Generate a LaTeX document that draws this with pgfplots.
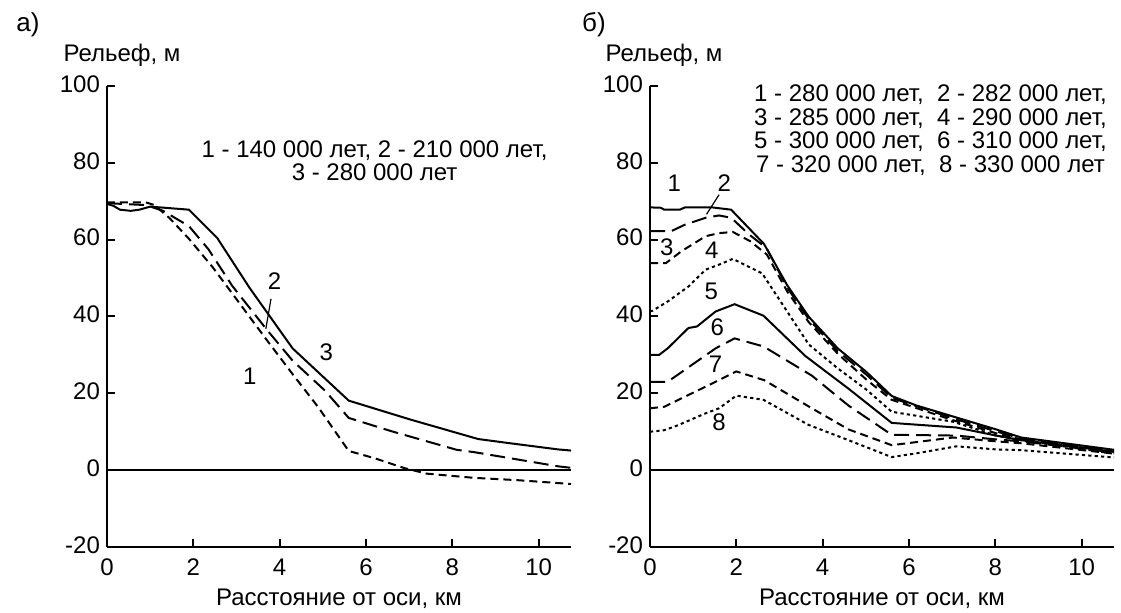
\documentclass[border=0pt]{standalone}
\usepackage{fontspec}
\setmainfont{Liberation Sans}
\usepackage{pgfplots}
\pgfplotsset{compat=1.18}
\newcommand{\fs}{\fontsize{12pt}{11pt}\selectfont}
\pgfplotsset{
  panel/.style={
    scale only axis, width=232pt, height=230.5pt, anchor=south west,
    xmin=0, xmax=10.75, ymin=-20, ymax=100,
    axis x line*=bottom, axis y line*=left,
    xtick={0,2,4,6,8,10}, ytick={-20,0,20,40,60,80,100},
    tick align=inside, major tick length=4pt,
    axis line style={line width=1.4pt},
    every tick/.style={line width=1pt, black},
    /pgf/number format/assume math mode=true,
    tick label style={font=\fs},
    xticklabel style={yshift=-2.5pt},
    yticklabel style={yshift=1pt},
    xlabel={Расстояние от оси, км},
    xlabel style={font=\fs, at={(axis description cs:0.5,0)}, anchor=center, yshift=-26pt},
    every axis plot/.append style={line width=1pt, black},
    clip=false,
  },
  s1/.style={solid},
  ld/.style={dash pattern=on 7.5pt off 3.5pt},
  md/.style={dash pattern=on 4pt off 2.5pt},
  dt/.style={dash pattern=on 1.6pt off 1.6pt},
}
\begin{document}
\begin{tikzpicture}[font=\fs]
\path[use as bounding box] (0,0) rectangle (560.5pt,306.5pt);
\node[font=\fontsize{13pt}{13pt}\selectfont] at (14pt,294pt) {а)};
\node[font=\fontsize{13pt}{13pt}\selectfont] at (297pt,294pt) {б)};
\node at (61pt,279pt) {Рельеф, м};
\node at (332pt,279pt) {Рельеф, м};

% ---------------- panel a
\begin{axis}[panel, at={(53.5pt,33pt)}]
\addplot[line width=0.75pt] coordinates {(0,0) (10.75,0)};
% 1 - 140 000
\addplot[md] coordinates {(0,69.7) (0.9,69.7) (1.1,69) (1.45,65.6) (1.9,60.2) (2.45,52.8) (3.0,44.5) (3.7,33.9) (4.3,25) (4.9,16.3) (5.6,5) (6.2,3.1) (6.9,0.5) (7.4,-0.9) (8.5,-2) (9.5,-2.6) (10.75,-3.6)};
% 2 - 210 000
\addplot[ld] coordinates {(0,69.5) (0.9,69) (1.3,67.5) (1.9,63.5) (2.35,57.5) (2.9,48) (3.7,36.6) (4.3,28.5) (5.05,20.7) (5.6,13.6) (6.6,10.1) (8.1,5.3) (8.5,4.7) (10.45,1.0) (10.75,0.6)};
% 3 - 280 000
\addplot[s1] coordinates {(0,69.3) (0.15,68.8) (0.3,67.8) (0.55,67.5) (0.75,67.8) (1.0,68.6) (1.9,67.8) (2.55,60.5) (3.3,47.5) (4.3,31.7) (5.6,18.1) (7.02,13.2) (8.6,8.1) (9.34,7) (10.45,5.4) (10.75,5.1)};
\node at (axis cs:3.31,24.4) {1};
\node at (axis cs:3.88,49.2) {2};
\node at (axis cs:5.08,30.6) {3};
\draw[line width=0.6pt] (axis cs:3.8,44.6) -- (axis cs:3.68,36.8);
\node[align=center, font=\fontsize{12pt}{11.5pt}\selectfont] at (axis cs:6.2,80.6) {1 - 140 000 лет, 2 - 210 000 лет,\\3 - 280 000 лет};
\end{axis}

% ---------------- panel b
\begin{axis}[panel, at={(325pt,33pt)}]
\addplot[line width=0.75pt] coordinates {(0,0) (10.75,0)};
% 1
\addplot[s1] coordinates {(0,68.4) (0.25,68.3) (0.33,67.8) (0.69,67.8) (0.81,68.4) (1.44,68.4) (1.88,67.8) (2.64,58.9) (3.18,48.1) (3.68,39.9) (4.35,31.7) (5.02,25.5) (5.6,19.3) (6.18,16.8) (7.1,13.7) (8.02,10.6) (8.6,8.5) (10.75,5.3)};
% 2
\addplot[ld] coordinates {(0,62.2) (0.49,62.2) (0.81,63.9) (1.29,65.7) (1.6,66.3) (1.88,65.7) (2.3,61.3) (2.7,57.8) (3.18,47.5) (3.68,39.3) (4.35,31) (5.02,24.8) (5.6,18.8) (7.1,13.2) (8.02,10.1) (8.6,8.2) (10.75,4.9)};
% 3
\addplot[md] coordinates {(0,53.9) (0.37,53.9) (0.73,57) (1.29,60.9) (1.6,61.7) (1.92,62) (2.32,59.6) (2.71,56.1) (3.18,46.5) (3.68,38.5) (4.35,30.3) (5.02,23.5) (5.6,18.3) (7.02,13) (8.02,9.6) (8.6,8) (10.75,4.8)};
% 4
\addplot[dt] coordinates {(0,41.3) (0.06,41.5) (0.41,43.9) (0.89,47.8) (1.29,52.2) (1.6,53.5) (1.92,55) (2.6,51.2) (3.02,44) (3.68,32.7) (4.35,26.5) (5.02,20.9) (5.6,15.2) (7.02,12.6) (8.02,9) (8.6,7.8) (10.75,4.3)};
% 5
\addplot[s1] coordinates {(0,30) (0.21,30) (0.41,31.7) (0.89,37) (1.09,37.4) (1.52,41.3) (1.96,43.2) (2.63,40.2) (3.6,29.7) (4.6,21.2) (5.6,12.3) (7.1,11.1) (8.02,9) (8.6,7.8) (10.75,4.8)};
% 6
\addplot[ld] coordinates {(0,23) (0.41,23) (0.97,27.4) (1.52,31.7) (1.96,34.3) (2.63,32.2) (3.75,24.6) (4.6,16.8) (5.6,9.2) (7.1,9) (8.02,8) (8.6,7.5) (10.75,4.6)};
% 7
\addplot[md] coordinates {(0,16.1) (0.33,16.5) (0.97,20) (1.52,23) (2.0,25.7) (2.65,23.4) (3.75,16.1) (4.6,10.6) (5.6,6.5) (7.02,8.5) (8.02,7.5) (8.6,7) (10.75,4.3)};
% 8
\addplot[dt] coordinates {(0,10) (0.33,10.4) (0.65,11.7) (1.29,14.8) (1.6,16.1) (2.0,19.4) (2.63,18.3) (3.67,11.8) (4.6,7.8) (5.6,3.4) (6.18,4.4) (7.1,6.2) (8.02,5.4) (8.6,5.2) (10.75,3.3)};
\node at (axis cs:0.56,74.8) {1};
\node at (axis cs:1.72,74.8) {2};
\draw[line width=0.6pt] (axis cs:1.6,71.7) -- (axis cs:1.31,66.6);
\node at (axis cs:0.39,57.9) {3};
\node at (axis cs:1.43,57.3) {4};
\node at (axis cs:1.42,46.6) {5};
\node at (axis cs:1.56,37.3) {6};
\node at (axis cs:1.52,27.5) {7};
\node at (axis cs:1.6,12.6) {8};
\node[align=center, font=\fontsize{12pt}{11.7pt}\selectfont] at (axis cs:6.5,88.5) {1 - 280 000 лет,\ \ 2 - 282 000 лет,\\3 - 285 000 лет,\ \ 4 - 290 000 лет,\\5 - 300 000 лет,\ \ 6 - 310 000 лет,\\7 - 320 000 лет,\ \ 8 - 330 000 лет};
\end{axis}
\end{tikzpicture}
\end{document}
